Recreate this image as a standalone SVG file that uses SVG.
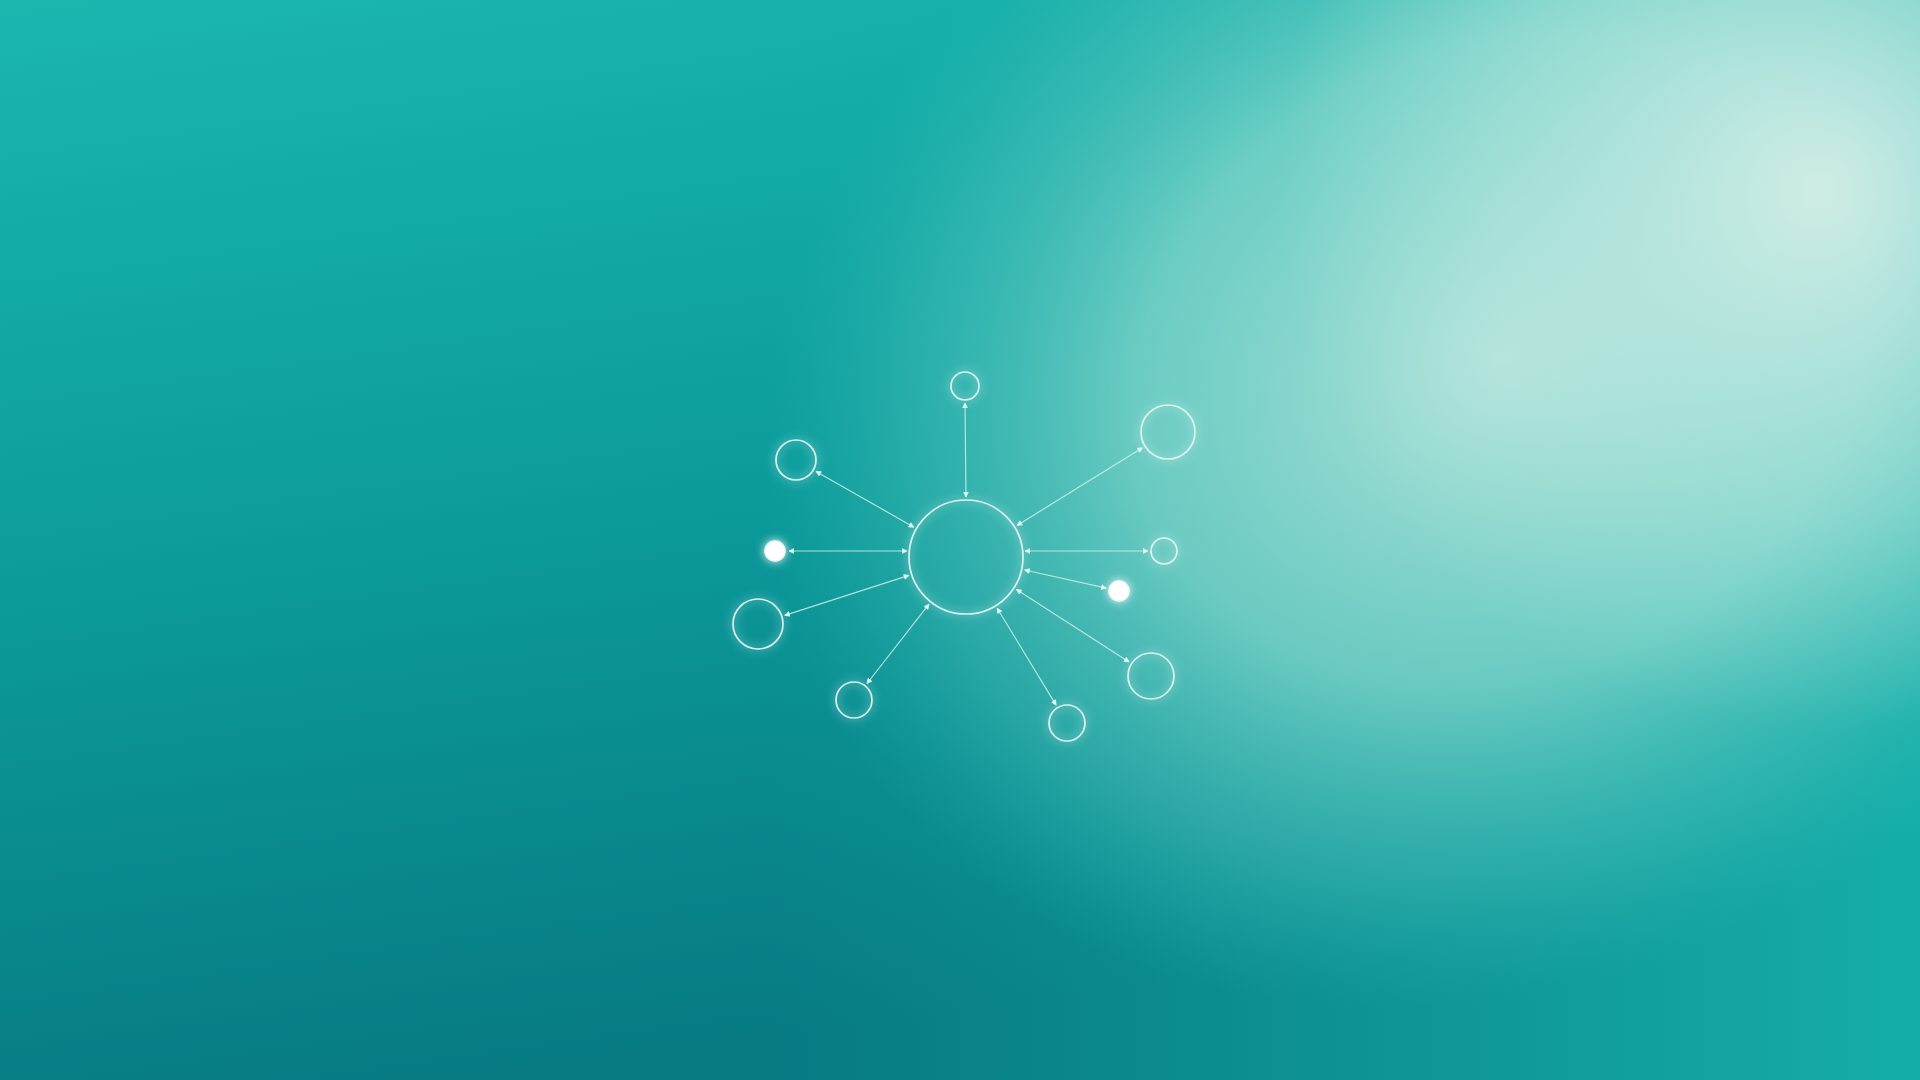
<svg xmlns="http://www.w3.org/2000/svg" width="1920" height="1080" viewBox="0 0 1920 1080">
  <defs>
    <linearGradient id="base" x1="0" y1="0" x2="0.25" y2="1">
      <stop offset="0" stop-color="#1bb7af"/>
      <stop offset="0.5" stop-color="#0c9c9c"/>
      <stop offset="1" stop-color="#077a84"/>
    </linearGradient>
    <linearGradient id="br" x1="0" y1="0" x2="1" y2="0">
      <stop offset="0.4" stop-color="#14aaa7" stop-opacity="0"/>
      <stop offset="1" stop-color="#18b3ad" stop-opacity="0.9"/>
    </linearGradient>
    <radialGradient id="glow1" gradientUnits="userSpaceOnUse" cx="1500" cy="360" r="760" gradientTransform="rotate(-25 1500 360) translate(1500 360) scale(1 0.82) translate(-1500 -360)">
      <stop offset="0" stop-color="#c2e9e0" stop-opacity="0.9"/>
      <stop offset="0.5" stop-color="#8ddcd0" stop-opacity="0.72"/>
      <stop offset="0.8" stop-color="#58c9bf" stop-opacity="0.35"/>
      <stop offset="1" stop-color="#30bdb3" stop-opacity="0"/>
    </radialGradient>
    <radialGradient id="glow2" gradientUnits="userSpaceOnUse" cx="1820" cy="190" r="540">
      <stop offset="0" stop-color="#d4eee8" stop-opacity="0.95"/>
      <stop offset="0.6" stop-color="#c0e9e0" stop-opacity="0.45"/>
      <stop offset="1" stop-color="#b0e6dc" stop-opacity="0"/>
    </radialGradient>
    <filter id="soft" x="-50%" y="-50%" width="200%" height="200%">
      <feGaussianBlur in="SourceGraphic" stdDeviation="5" result="b"/>
      <feMerge>
        <feMergeNode in="b"/>
        <feMergeNode in="SourceGraphic"/>
      </feMerge>
    </filter>
    <marker id="arr" viewBox="0 0 10 10" refX="9" refY="5" markerWidth="6" markerHeight="6" markerUnits="userSpaceOnUse" orient="auto-start-reverse">
      <path d="M1,1 L9,5 L1,9 Z" fill="#e4f7f3" stroke="#e4f7f3" stroke-width="1"/>
    </marker>
    <style>
      .ring { fill: none; stroke: #e2f6f2; stroke-width: 1.7; stroke-opacity: 0.95; }
      .dot { fill: #ffffff; stroke: #f2fbf9; stroke-width: 1.5; }
      .link { stroke: #cdeee8; stroke-width: 1.2; stroke-opacity: 0.85; fill: none; marker-start: url(#arr); marker-end: url(#arr); }
    </style>
  </defs>

  <rect x="0" y="0" width="1920" height="1080" fill="url(#base)"/>
  <rect x="0" y="0" width="1920" height="1080" fill="url(#br)"/>
  <rect x="0" y="0" width="1920" height="1080" fill="url(#glow1)"/>
  <rect x="0" y="0" width="1920" height="1080" fill="url(#glow2)"/>

  <g id="connectors">
    <line class="link" x1="966" y1="497" x2="965" y2="403"/>
    <line class="link" x1="1017" y1="525.4" x2="1142.5" y2="447.8"/>
    <line class="link" x1="913.9" y1="527.2" x2="816" y2="471.4"/>
    <line class="link" x1="907" y1="551" x2="789" y2="551"/>
    <line class="link" x1="1025" y1="551" x2="1148" y2="551"/>
    <line class="link" x1="1024.6" y1="570" x2="1106.3" y2="588.2"/>
    <line class="link" x1="908.9" y1="575.4" x2="784.7" y2="615.4"/>
    <line class="link" x1="929" y1="604.2" x2="867" y2="683.5"/>
    <line class="link" x1="997.2" y1="608.2" x2="1056.1" y2="705.1"/>
    <line class="link" x1="1016.5" y1="589.5" x2="1129.1" y2="661.9"/>
  </g>

  <g id="hub" filter="url(#soft)"><circle class="ring" cx="966" cy="557" r="57"/></g>
  <g id="n-top" filter="url(#soft)"><circle class="ring" cx="965" cy="386" r="14"/></g>
  <g id="n-upper-right" filter="url(#soft)"><circle class="ring" cx="1168" cy="432" r="27"/></g>
  <g id="n-upper-left" filter="url(#soft)"><circle class="ring" cx="796" cy="460" r="20"/></g>
  <g id="n-left-dot" filter="url(#soft)"><circle class="dot" cx="775" cy="551" r="10"/></g>
  <g id="n-right" filter="url(#soft)"><circle class="ring" cx="1164" cy="551" r="13"/></g>
  <g id="n-right-dot" filter="url(#soft)"><circle class="dot" cx="1119" cy="591" r="10"/></g>
  <g id="n-lower-left" filter="url(#soft)"><circle class="ring" cx="758" cy="624" r="25"/></g>
  <g id="n-bottom-left" filter="url(#soft)"><circle class="ring" cx="854" cy="700" r="18"/></g>
  <g id="n-bottom-right" filter="url(#soft)"><circle class="ring" cx="1067" cy="723" r="18"/></g>
  <g id="n-lower-right" filter="url(#soft)"><circle class="ring" cx="1151" cy="676" r="23"/></g>
</svg>
